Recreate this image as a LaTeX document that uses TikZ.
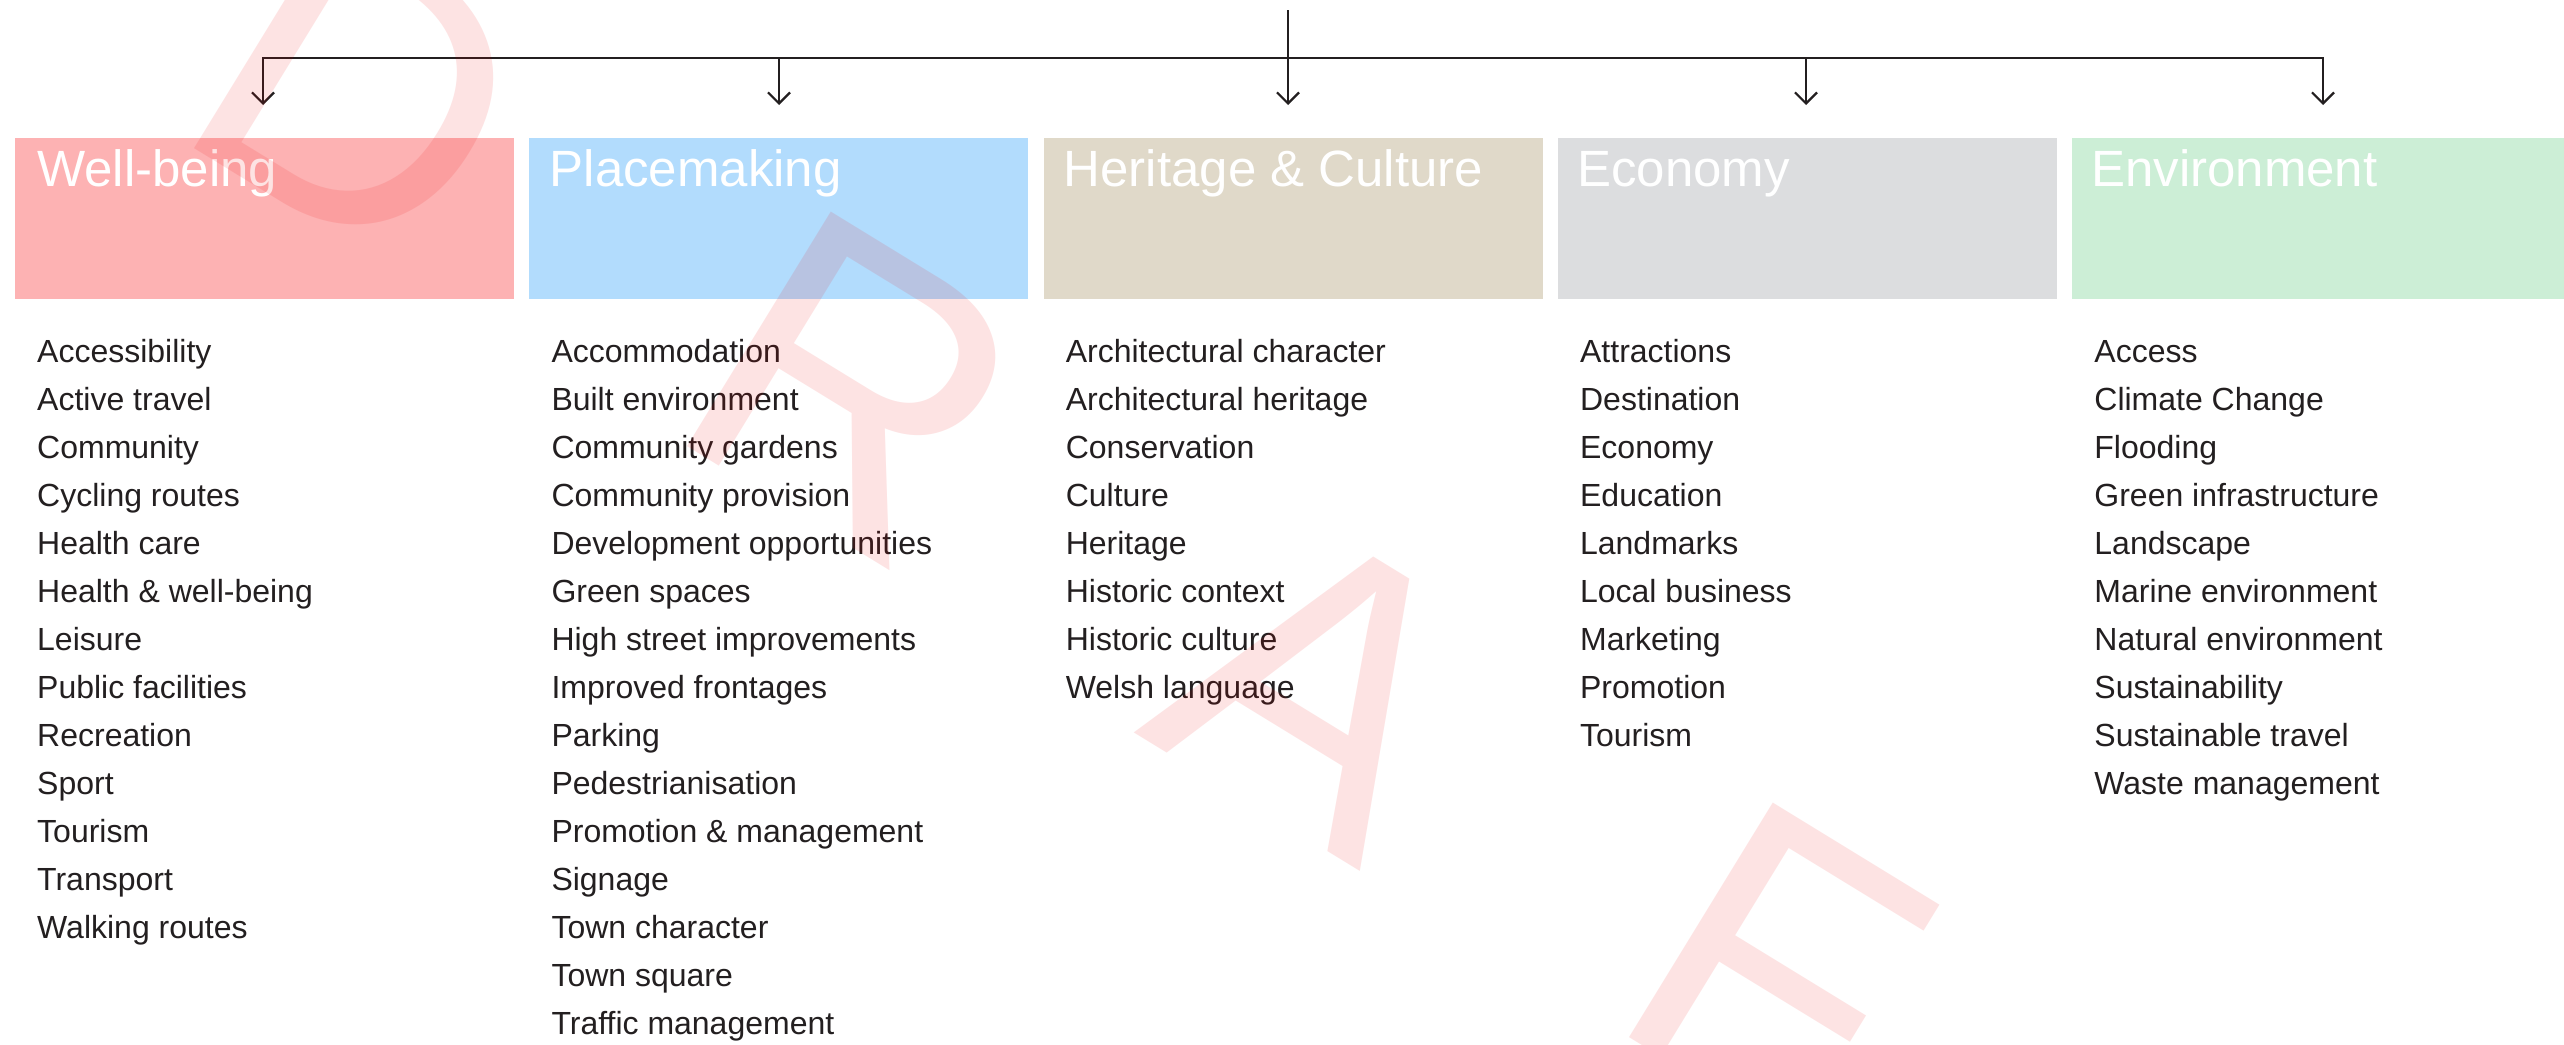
\documentclass[tikz,border=0pt]{standalone}
\usepackage{fontspec}
\setmainfont{Liberation Sans}
\usetikzlibrary{arrows.meta}
\definecolor{wbfill}{RGB}{253,178,179}
\definecolor{pmfill}{RGB}{178,220,253}
\definecolor{hcfill}{RGB}{224,217,201}
\definecolor{ecfill}{RGB}{220,221,223}
\definecolor{envfill}{RGB}{204,238,214}
\definecolor{ink}{RGB}{35,31,32}
\definecolor{wmred}{RGB}{240,0,0}
\begin{document}
\begin{tikzpicture}[x=1pt,y=-1pt,
  catbox/.style={rectangle, inner sep=0pt, outer sep=0pt, minimum width=499pt, minimum height=161pt, anchor=north west},
  cattitle/.style={anchor=base west, inner sep=0pt, text=white, font=\fontsize{51}{60}\selectfont},
  item/.style={anchor=base west, inner sep=0pt, text=ink, font=\fontsize{32}{38}\selectfont},
  link/.style={draw=ink, line width=2.2pt},
  linkarrow/.style={link, -{Straight Barb[length=11pt,width=22pt]}},
  wm/.style={anchor=base west, inner sep=0pt, rotate=-31.5, text=wmred, text opacity=0.11, font=\fontsize{400}{400}\selectfont}]
\useasboundingbox (0,0) rectangle (2564,1044);
\clip (0,0) rectangle (2564,1044);
\fill[white] (0,0) rectangle (2564,1044);

% category boxes
\node[catbox, fill=wbfill]  (b1) at (15,138) {};
\node[catbox, fill=pmfill]  (b2) at (529.3,138) {};
\node[catbox, fill=hcfill]  (b3) at (1043.6,138) {};
\node[catbox, fill=ecfill]  (b4) at (1557.9,138) {};
\node[catbox, fill=envfill] (b5) at (2072.2,138) {};

% titles
\node[cattitle] (t1) at (37,186) {Well-being};
\node[cattitle] (t2) at (549.5,186) {Placemaking};
\node[cattitle] (t3) at (1063.5,186) {Heritage \& Culture};
\node[cattitle] (t4) at (1577,186) {Economy};
\node[cattitle] (t5) at (2091,186) {Environment};

% connectors
\coordinate (top) at (1288,10);
\coordinate (j1) at (263,58);
\coordinate (j2) at (779,58);
\coordinate (j3) at (1288,58);
\coordinate (j4) at (1806,58);
\coordinate (j5) at (2323,58);
\coordinate (tip1) at (263,105);
\coordinate (tip2) at (779,105);
\coordinate (tip3) at (1288,105);
\coordinate (tip4) at (1806,105);
\coordinate (tip5) at (2323,105);
\draw[link] (j2) -- (j4);
\draw[linkarrow] (j2) -- (j1) -- (tip1);
\draw[linkarrow] (j4) -- (j5) -- (tip5);
\draw[linkarrow] (j2) -- (tip2);
\draw[linkarrow] (j4) -- (tip4);
\draw[linkarrow] (top) -- (tip3);

% lists
\foreach \t [count=\i from 0] in {Accessibility, Active travel, Community, Cycling routes, Health care, Health \& well-being, Leisure, Public facilities, Recreation, Sport, Tourism, Transport, Walking routes}
  \node[item] (wb\i) at (37,362+48*\i) {\t};
\foreach \t [count=\i from 0] in {Accommodation, Built environment, Community gardens, Community provision, Development opportunities, Green spaces, High street improvements, Improved frontages, Parking, Pedestrianisation, Promotion \& management, Signage, Town character, Town square, Traffic management}
  \node[item] (pm\i) at (551.3,362+48*\i) {\t};
\foreach \t [count=\i from 0] in {Architectural character, Architectural heritage, Conservation, Culture, Heritage, Historic context, Historic culture, Welsh language}
  \node[item] (hc\i) at (1065.6,362+48*\i) {\t};
\foreach \t [count=\i from 0] in {Attractions, Destination, Economy, Education, Landmarks, Local business, Marketing, Promotion, Tourism}
  \node[item] (ec\i) at (1579.9,362+48*\i) {\t};
\foreach \t [count=\i from 0] in {Access, Climate Change, Flooding, Green infrastructure, Landscape, Marine environment, Natural environment, Sustainability, Sustainable travel, Waste management}
  \node[item] (en\i) at (2094.2,362+48*\i) {\t};

% watermark
\node[wm] (wmD) at (166,131) {D};
\node[wm] (wmR) at (659,429) {R};
\node[wm] (wmA) at (1133,732) {A};
\node[wm] (wmF) at (1601,1020) {F};
\end{tikzpicture}
\end{document}
